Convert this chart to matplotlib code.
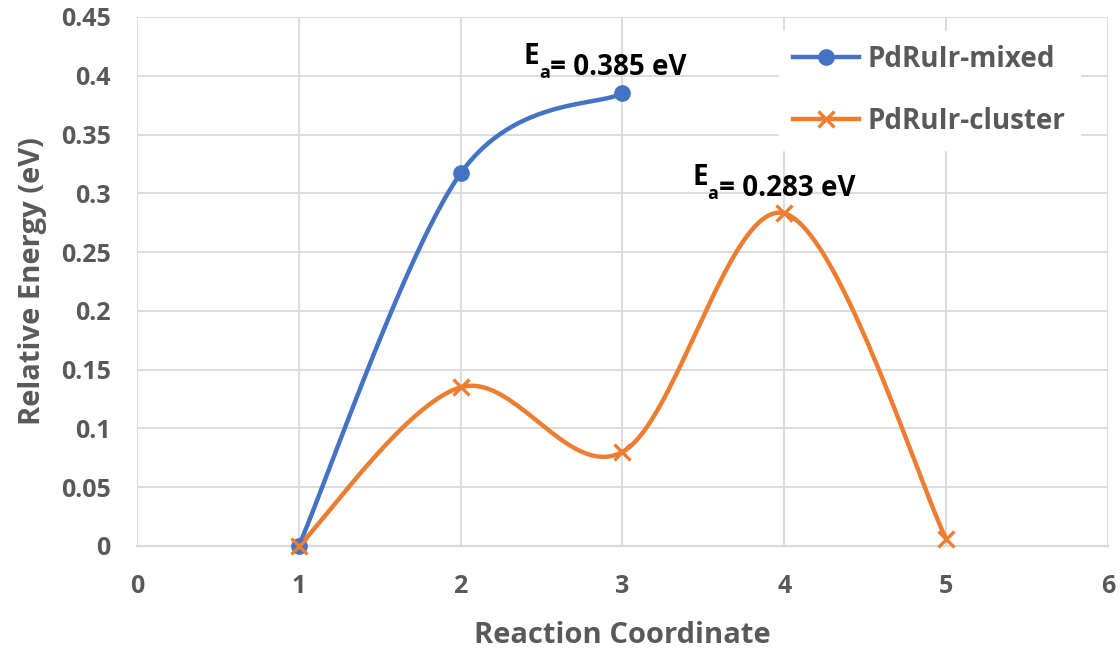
import numpy as np
import matplotlib
matplotlib.use("Agg")
import matplotlib.pyplot as plt

plt.rcParams['font.family'] = ['Open Sans', 'DejaVu Sans']

# data
mixed_x = [1, 2, 3]
mixed_y = [0.0, 0.317, 0.385]
cluster_x = [1, 2, 3, 4, 5]
cluster_y = [0.0, 0.135, 0.08, 0.283, 0.006]
labels = ["PdRuIr-mixed", "PdRuIr-cluster"]
barriers = ["0.385", "0.283"]

blue = "#4472C4"
orange = "#ED7D31"
grey = "#595959"
grid = "#D9D9D9"


def smooth(x, y, n=40):
    # Excel-like smoothed line: cubic bezier through the points
    p = np.column_stack([x, y]).astype(float)
    pts = [p[0]]
    for i in range(len(p) - 1):
        p0 = p[i - 1] if i > 0 else p[i]
        p3 = p[i + 2] if i + 2 < len(p) else p[i + 1]
        c1 = p[i] + (p[i + 1] - p0) / 6
        c2 = p[i + 1] - (p3 - p[i]) / 6
        t = np.linspace(0, 1, n)[1:, None]
        seg = ((1 - t) ** 3 * p[i] + 3 * (1 - t) ** 2 * t * c1
               + 3 * (1 - t) * t ** 2 * c2 + t ** 3 * p[i + 1])
        pts.extend(seg)
    pts = np.array(pts)
    return pts[:, 0], pts[:, 1]


fig = plt.figure(figsize=(11.2, 6.52), dpi=100)
ax = fig.add_axes([0.1223, 0.1626, 0.8670, 0.8114])

sx, sy = smooth(mixed_x, mixed_y)
ax.plot(sx, sy, color=blue, lw=3.2, zorder=3)
ax.plot(mixed_x, mixed_y, 'o', color=blue, ms=11, zorder=4, clip_on=False)
ax.plot([], [], '-o', color=blue, lw=3.2, ms=11, label=labels[0])

sx, sy = smooth(cluster_x, cluster_y)
ax.plot(sx, sy, color=orange, lw=3.2, zorder=3)
ax.plot(cluster_x, cluster_y, 'x', color=orange, ms=12, mew=2.4, zorder=6,
        clip_on=False)
ax.plot([], [], '-x', color=orange, lw=3.2, ms=12, mew=2.4, label=labels[1])

ax.set_xlim(0, 6)
ax.set_ylim(0, 0.45)
ax.set_xticks(np.arange(0, 7, 1))
ax.set_yticks(np.arange(0, 0.46, 0.05))
ax.set_yticklabels(["0", "0.05", "0.1", "0.15", "0.2", "0.25", "0.3",
                    "0.35", "0.4", "0.45"])
ax.grid(True, color=grid, lw=1.3)
ax.set_axisbelow(True)
for s in ["top", "right", "left"]:
    ax.spines[s].set_visible(False)
ax.spines["bottom"].set_color(grid)
ax.spines["bottom"].set_linewidth(1.6)
ax.tick_params(axis="y", length=0, labelsize=18, labelcolor=grey, pad=19)
ax.tick_params(axis="x", length=0, labelsize=18, labelcolor=grey, pad=20)
for lab in ax.get_xticklabels() + ax.get_yticklabels():
    lab.set_fontweight("bold")

ax.set_xlabel("Reaction Coordinate", fontsize=21, fontweight="bold",
              color=grey, labelpad=16)
ax.set_ylabel("Relative Energy (eV)", fontsize=21, fontweight="bold",
              color=grey, labelpad=10)

leg = ax.legend(loc="upper right", bbox_to_anchor=(0.985, 1.0), fontsize=20,
                frameon=True, fancybox=False, framealpha=1, edgecolor="white",
                handlelength=2.4, handletextpad=0.3, labelspacing=1.2,
                borderpad=0.5)
leg.set_zorder(7)
for t in leg.get_texts():
    t.set_fontweight("bold")
    t.set_color(grey)

# barrier labels
for (tx, ty), val in zip([(2.39, 0.41), (3.43, 0.307)], barriers):
    e = ax.text(tx, ty, "E", fontsize=20, fontweight="bold", color="black",
                va="baseline", bbox=dict(fc="white", ec="none", pad=0))
    a = ax.annotate("a", xy=(1, 0), xycoords=e, xytext=(0, -5),
                    textcoords="offset points", fontsize=13, fontweight="bold",
                    va="baseline", ha="left")
    ax.annotate("= " + val + " eV", xy=(1, 0), xycoords=a, xytext=(0, 5),
                textcoords="offset points", fontsize=20, fontweight="bold",
                va="baseline", ha="left")

fig.savefig("out.png", dpi=100)
